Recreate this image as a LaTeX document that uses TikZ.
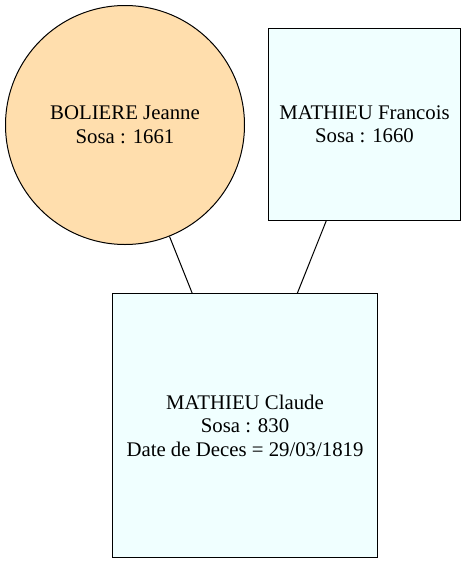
\documentclass[tikz,border=0pt]{standalone}
\usepackage{fontspec}
\setmainfont{Liberation Serif}
\usepackage{tikz}
\definecolor{navajo}{HTML}{FFDEAD}
\definecolor{azur}{HTML}{F0FFFF}
\tikzstyle{person}=[draw, line width=1pt, align=center, inner sep=0pt, font=\fontsize{20.8pt}{23.5pt}\selectfont]
\tikzstyle{femme}=[person, circle, fill=navajo, minimum size=239pt]
\tikzstyle{homme}=[person, rectangle, fill=azur]

\begin{document}
\begin{tikzpicture}[x=1pt, y=-1pt]
        \useasboundingbox[fill=white] (0,0) rectangle (466,565);
        % parents
        \node[femme] (jeanne) at (125,125) {BOLIERE Jeanne\\Sosa : 1661};
        \node[homme, minimum size=192pt] (francois) at (364.5,124.5) {MATHIEU Francois\\Sosa : 1660};

        % enfant
        \node[homme, minimum width=265pt, minimum height=264pt] (claude) at (245,425.5) {MATHIEU Claude\\Sosa : 830\\Date de Deces = 29/03/1819};
        \draw[line width=1pt] (jeanne) -- (claude);
        \draw[line width=1pt] (francois) -- (claude);
    \end{tikzpicture}
\end{document}
